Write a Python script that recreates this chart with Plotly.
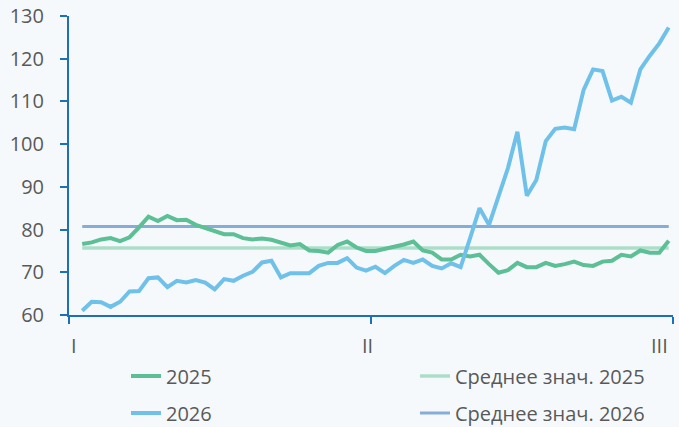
import plotly.graph_objects as go

y2025 = [76.6, 77.0, 77.7, 78.0, 77.3, 78.2, 80.5, 83.0, 82.0, 83.2,
         82.2, 82.3, 81.1, 80.3, 79.5, 78.9, 78.9, 78.0, 77.7, 77.9,
         77.6, 76.9, 76.3, 76.6, 75.1, 75.0, 74.6, 76.4, 77.2, 75.8,
         75.0, 75.0, 75.5, 75.9, 76.5, 77.2, 75.1, 74.6, 73.0, 73.0,
         74.1, 73.7, 74.1, 71.9, 69.9, 70.5, 72.2, 71.2, 71.2, 72.2,
         71.5, 71.9, 72.5, 71.7, 71.5, 72.5, 72.7, 74.1, 73.7, 75.1,
         74.6, 74.6, 77.4]
y2026 = [61.0, 63.1, 63.0, 61.9, 63.1, 65.5, 65.6, 68.6, 68.8, 66.5,
         68.0, 67.6, 68.2, 67.6, 66.0, 68.4, 68.0, 69.2, 70.1, 72.3,
         72.7, 68.8, 69.8, 69.9, 69.8, 71.5, 72.2, 72.2, 73.3, 71.1,
         70.4, 71.3, 69.8, 71.5, 72.9, 72.2, 73.0, 71.5, 70.9, 72.1,
         71.2, 78.0, 85.0, 81.1, 87.7, 94.4, 102.9, 87.9, 91.6, 100.7,
         103.6, 103.9, 103.5, 112.7, 117.5, 117.1, 110.2, 111.1, 109.7, 117.5,
         120.7, 123.6, 127.3]
avg_2025 = 75.7
avg_2026 = 80.7
tick_labels = ["I", "II", "III"]

x = list(range(len(y2025)))
x_lo, x_hi = -1.4, len(x) - 0.55
tick_pos = [x_lo + 0.02, (x_lo + x_hi) / 2, x_hi - 0.02]

GREY = "#595959"
AXIS = "#1f6fb8"
FONT = "Open Sans"
W, H = 679, 427

fig = go.Figure()
fig.add_trace(go.Scatter(x=[x[0], x[-1]], y=[avg_2025, avg_2025], mode="lines",
                         name="Среднее знач. 2025", legend="legend", legendrank=2,
                         line=dict(color="#abdec8", width=3.5)))
fig.add_trace(go.Scatter(x=[x[0], x[-1]], y=[avg_2026, avg_2026], mode="lines",
                         name="Среднее знач. 2026", legend="legend2", legendrank=2,
                         line=dict(color="#86add6", width=3)))
fig.add_trace(go.Scatter(x=x, y=y2025, mode="lines", name="2025",
                         legend="legend", legendrank=1,
                         line=dict(color="#5cbf95", width=4)))
fig.add_trace(go.Scatter(x=x, y=y2026, mode="lines", name="2026",
                         legend="legend2", legendrank=1,
                         line=dict(color="#6fc1ea", width=4)))

for i, lab in enumerate(tick_labels):
    fig.add_annotation(x=tick_pos[i], y=0, xref="x", yref="paper",
                       text=lab, showarrow=False, yanchor="top",
                       xshift=[5, -4, -13][i], yshift=-15,
                       font=dict(family=FONT, size=20, color=GREY))

leg = dict(orientation="h", xref="container", yref="container",
           xanchor="left", yanchor="middle", entrywidth=244,
           bgcolor="rgba(0,0,0,0)", traceorder="normal",
           font=dict(family=FONT, size=20, color=GREY))
fig.update_layout(
    width=W, height=H,
    margin=dict(l=69, r=W - 673, t=16, b=H - 315, autoexpand=False),
    paper_bgcolor="#f6f9fc", plot_bgcolor="#f6f9fc",
    font=dict(family=FONT, size=20, color=GREY),
    legend=dict(leg, x=126 / W, y=1 - 376 / H),
    legend2=dict(leg, x=126 / W, y=1 - 413 / H),
    xaxis=dict(range=[x_lo, x_hi], tickvals=tick_pos, showticklabels=False,
               ticks="outside", ticklen=7, tickwidth=2, tickcolor=AXIS,
               showline=True, linecolor=AXIS, linewidth=2,
               showgrid=False, zeroline=False),
    yaxis=dict(range=[60, 130], tickvals=list(range(60, 131, 10)),
               ticks="outside", ticklen=7, ticklabeloverflow="allow",
               tickwidth=2, tickcolor=AXIS, showline=True, linecolor=AXIS,
               linewidth=2, showgrid=False, zeroline=False,
               ticklabelstandoff=12,
               tickfont=dict(family=FONT, size=20, color=GREY)),
)

# drop the browser's default 8px body margin so the figure sits at 0,0
fig.write_html("out.html", config={"displayModeBar": False},
               post_script="document.body.style.margin = '0';")
